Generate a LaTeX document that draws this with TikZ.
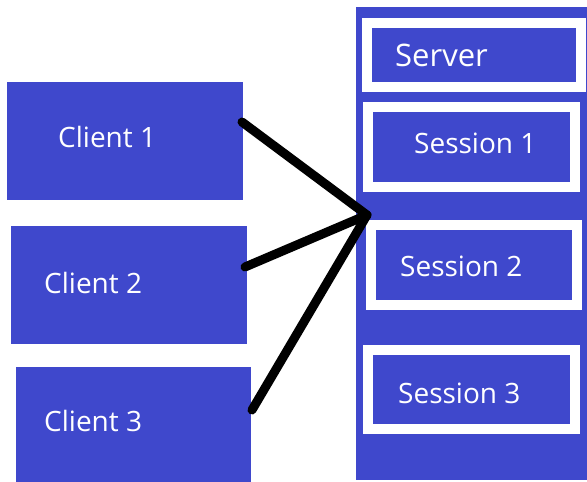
\documentclass[tikz,border=0pt]{standalone}
\usepackage{fontspec}
\setmainfont{Open Sans}
\definecolor{paintblue}{HTML}{3F48CC}
\begin{document}
\begin{tikzpicture}[x=1pt,y=-1pt,
  blk/.style={fill=paintblue,draw=none,inner sep=0pt,outer sep=0pt},
  framed/.style={fill=paintblue,draw=white,line width=10pt,inner sep=0pt,outer sep=0pt},
  lbl/.style={text=white,font=\fontsize{28}{31}\selectfont,anchor=base west,inner sep=0pt},
  wire/.style={line width=9pt,line cap=round,line join=round,draw=black}]
\useasboundingbox (0,0) rectangle (587,482);
% clients
\node[blk,minimum width=236pt,minimum height=118pt] (c1) at (125,141) {};
\node[blk,minimum width=236pt,minimum height=118pt] (c2) at (129,285) {};
\node[blk,minimum width=235pt,minimum height=120pt] (c3) at (133.5,427) {};
\node[lbl] (t1) at (58,147) {Client 1};
\node[lbl] (t2) at (44,293) {Client 2};
\node[lbl] (t3) at (44,431) {Client 3};
% server
\node[blk,minimum width=240pt,minimum height=473pt] (srv) at (476,243.5) {};
\node[framed,minimum width=214pt,minimum height=64pt] (sl) at (474,55) {};
\node[framed,minimum width=207pt,minimum height=80pt] (s1) at (471.5,147) {};
\node[framed,minimum width=206pt,minimum height=80pt] (s2) at (474,265) {};
\node[framed,minimum width=207pt,minimum height=79pt] (s3) at (471.5,389.5) {};
\node[lbl,font=\fontsize{31}{34}\selectfont] (ts) at (395,66) {Server};
\node[lbl] (ts1) at (414,153) {Session 1};
\node[lbl] (ts2) at (400,276) {Session 2};
\node[lbl] (ts3) at (398,403) {Session 3};
% connectors
\coordinate (hub) at (367,215);
\coordinate (e1) at (242,122);
\coordinate (e2) at (245,267);
\coordinate (e3) at (252,410);
\draw[wire] (e1) -- (hub) -- (e2);
\draw[wire] (hub) -- (e3);
\end{tikzpicture}
\end{document}
